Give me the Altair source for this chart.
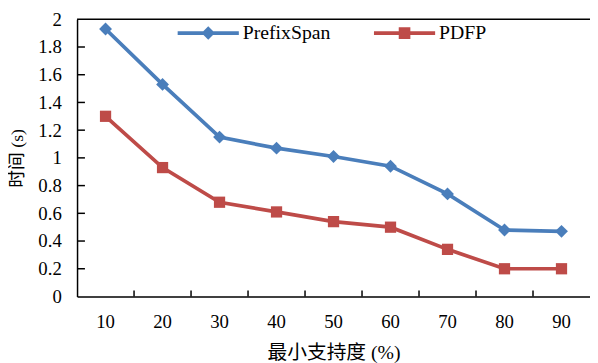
import altair as alt
import pandas as pd

support = ["10", "20", "30", "40", "50", "60", "70", "80", "90"]
prefixspan = [1.93, 1.53, 1.15, 1.07, 1.01, 0.94, 0.74, 0.48, 0.47]
pdfp = [1.30, 0.93, 0.68, 0.61, 0.54, 0.50, 0.34, 0.20, 0.20]
series = ["PrefixSpan", "PDFP"]
colors = ["#4A7EBB", "#BE4B48"]
shapes = ["diamond", "square"]
y_ticks = [0, 0.2, 0.4, 0.6, 0.8, 1, 1.2, 1.4, 1.6, 1.8, 2]

rows = []
for s, vals in zip(series, [prefixspan, pdfp]):
    for k, v in zip(support, vals):
        rows.append({"support": k, "time": v, "series": s})
df = pd.DataFrame(rows)

SERIF = "Liberation Serif"
MIXED = "Liberation Serif, 'Noto Sans CJK SC'"

legend_syms = [
    "M-1,-0.06L1,-0.06L1,0.06L-1,0.06Z M0,-0.22L0.22,0L0,0.22L-0.22,0Z",
    "M-1,-0.06L1,-0.06L1,0.06L-1,0.06Z M-0.19,-0.19L0.19,-0.19L0.19,0.19L-0.19,0.19Z",
]
legend_x = [102, 301]

x_axis = alt.Axis(title="最小支持度 (%)", labelAngle=0, titlePadding=12, labelPadding=16,
                  titleFontSize=20)
y_axis = alt.Axis(title="时间 (s)", values=y_ticks, format="~g", titlePadding=12, labelPadding=16,
                  titleFontSize=18)
x_scale = alt.Scale(type="band", paddingInner=0, paddingOuter=0)
x_enc = alt.X("support:O", sort=support, scale=x_scale, axis=x_axis)
y_enc = alt.Y("time:Q", scale=alt.Scale(domain=[0, 2], nice=False), axis=y_axis)

layers = [
    alt.Chart(pd.DataFrame({"time": [2]})).mark_rule(color="black", strokeWidth=1.5).encode(y=y_enc),
    # inward tick marks on the y axis
    alt.Chart(pd.DataFrame({"time": y_ticks[1:-1]})).mark_rule(color="black", strokeWidth=1.5).encode(
        y=y_enc, x=alt.value(0), x2=alt.value(8)),
    # inward tick marks on the x axis, at band boundaries
    alt.Chart(pd.DataFrame({"support": support[1:]})).mark_rule(color="black", strokeWidth=1.5).encode(
        x=alt.X("support:O", sort=support, bandPosition=0, scale=x_scale, axis=x_axis),
        y=alt.value(275), y2=alt.value(281)),
]
for s, c, shp in zip(series, colors, shapes):
    sub = df[df["series"] == s]
    layers.append(alt.Chart(sub).mark_line(strokeWidth=3.75, color=c).encode(x=x_enc, y=y_enc))
    layers.append(
        alt.Chart(sub).mark_point(filled=True, opacity=1, size=170 if shp == "diamond" else 130,
                                  color=c, shape=shp).encode(x=x_enc, y=y_enc)
    )
for s, c, sym, lx in zip(series, colors, legend_syms, legend_x):
    layers.append(
        alt.Chart(alt.Data(values=[])).mark_point(filled=True, opacity=1, color=c, size=3844,
                                                  strokeWidth=0).encode(
            shape=alt.Shape("k:N", scale=alt.Scale(domain=[s], range=[sym]),
                            legend=alt.Legend(title=None, orient="none", legendX=lx, legendY=-17,
                                              padding=0, labelFont=SERIF, labelFontSize=20,
                                              labelColor="black", labelOffset=4,
                                              symbolSize=3844, symbolStrokeWidth=0,
                                              symbolFillColor=c, symbolOpacity=1))
        )
    )

chart = (
    alt.layer(*layers)
    .resolve_scale(shape="independent")
    .properties(
        width=520, height=281,
        autosize=alt.AutoSizeParams(type="none"),
        padding={"left": 70, "top": 9, "right": 0, "bottom": 65},
    )
    .configure_view(stroke=None)
    .configure_axis(
        titleFont=MIXED, titleFontWeight="normal", titleColor="black",
        labelFont=SERIF, labelFontSize=19, labelColor="black", labelOverlap=False,
        ticks=False, grid=False, domainColor="black", domainWidth=1.5,
    )
)

chart.save("out.html", embed_options={"renderer": "svg", "actions": False})
